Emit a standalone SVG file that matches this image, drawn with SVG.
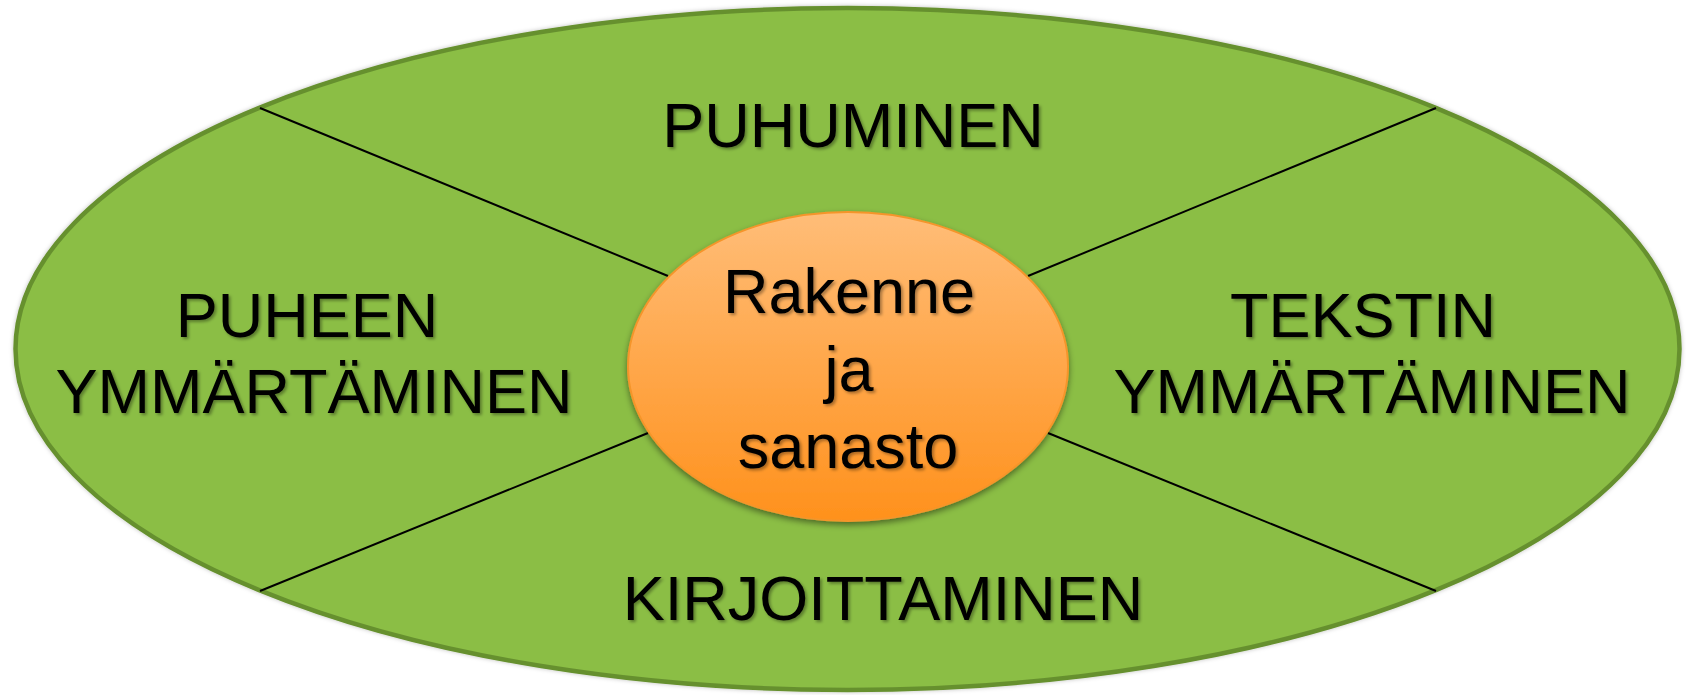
<svg xmlns="http://www.w3.org/2000/svg" width="1686" height="695" viewBox="0 0 1686 695">
  <defs>
    <linearGradient id="orange" x1="0" y1="0" x2="0" y2="1">
      <stop offset="0" stop-color="#ffbd78"/>
      <stop offset="1" stop-color="#ff911c"/>
    </linearGradient>
    <filter id="tshadow" x="-10%" y="-20%" width="120%" height="150%">
      <feDropShadow dx="2" dy="2" stdDeviation="1.5" flood-color="#000" flood-opacity="0.35"/>
    </filter>
    <filter id="eshadow" x="-10%" y="-10%" width="120%" height="130%">
      <feDropShadow dx="0" dy="3" stdDeviation="3" flood-color="#000" flood-opacity="0.45"/>
    </filter>
    <filter id="oshadow" x="-5%" y="-5%" width="110%" height="110%">
      <feDropShadow dx="0" dy="0" stdDeviation="2" flood-color="#000" flood-opacity="0.25"/>
    </filter>
  </defs>
  <style>
    .lbl { font-family: "Liberation Sans", Arial, sans-serif; font-size: 63px; fill: #000; text-anchor: middle; filter: url(#tshadow); }
    .conn { stroke: #000; stroke-width: 2; fill: none; }
  </style>
  <rect width="1686" height="695" fill="#ffffff"/>
  <g id="outer">
    <ellipse cx="847.5" cy="349" rx="832" ry="341" fill="#8bbe45" stroke="#66902f" stroke-width="4.5" filter="url(#oshadow)"/>
  </g>
  <g id="connectors">
    <line class="conn" x1="260" y1="108" x2="668" y2="276"/>
    <line class="conn" x1="1436" y1="108" x2="1028" y2="276"/>
    <line class="conn" x1="260" y1="591" x2="648" y2="433"/>
    <line class="conn" x1="1436" y1="591" x2="1048" y2="433"/>
  </g>
  <g id="puhuminen">
    <text class="lbl" x="853" y="147">PUHUMINEN</text>
  </g>
  <g id="puheen">
    <text class="lbl" x="307" y="337">PUHEEN</text>
    <text class="lbl" x="314" y="413">YMMÄRTÄMINEN</text>
  </g>
  <g id="tekstin">
    <text class="lbl" x="1363" y="337">TEKSTIN</text>
    <text class="lbl" x="1372" y="413">YMMÄRTÄMINEN</text>
  </g>
  <g id="kirjoittaminen">
    <text class="lbl" x="883" y="620">KIRJOITTAMINEN</text>
  </g>
  <g id="center">
    <ellipse cx="848" cy="366.5" rx="220" ry="154.5" fill="url(#orange)" stroke="#f5952a" stroke-width="2" filter="url(#eshadow)"/>
    <text class="lbl" x="849" y="313">Rakenne</text>
    <text class="lbl" x="849" y="391">ja</text>
    <text class="lbl" x="848" y="468">sanasto</text>
  </g>
</svg>
